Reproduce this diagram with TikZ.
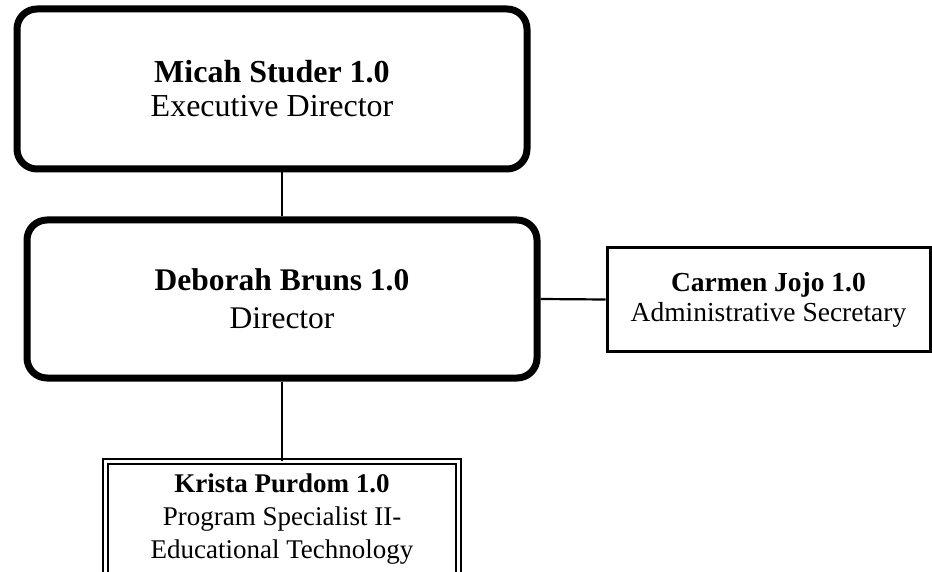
\documentclass[tikz,border=0pt]{standalone}
\usepackage{fontspec}
\setmainfont{Liberation Serif}
\usetikzlibrary{positioning}

\tikzset{
  leadbox/.style={draw, line width=7pt, rounded corners=20pt, minimum width=510pt,
    align=center, font=\fontsize{32}{34}\selectfont},
  staffbox/.style={draw, line width=3pt, align=center, font=\fontsize{27.5}{30}\selectfont},
  link/.style={line width=2.2pt}
}

\begin{document}
\begin{tikzpicture}[x=1pt,y=-1pt]
\useasboundingbox (0,0) rectangle (932,572);
\clip (0,0) rectangle (932,572);
% leadership
\node[leadbox, minimum height=160pt] (exec) at (272,89)
  {\textbf{Micah Studer 1.0}\\Executive Director};
\node[leadbox, minimum height=158pt, font=\fontsize{31.5}{38}\selectfont] (dir) at (282,299)
  {\textbf{Deborah Bruns 1.0}\\Director};
% staff
\node[staffbox, minimum width=323pt, minimum height=103pt] (sec) at (768.5,299.5)
  {\textbf{Carmen Jojo 1.0}\\Administrative Secretary};
\node[staffbox, line width=2pt, double, double distance=3pt, minimum width=353pt,
  minimum height=115pt, font=\fontsize{27}{33}\selectfont] (spec) at (282,519)
  {\textbf{Krista Purdom 1.0}\\Program Specialist II-\\Educational Technology};
% reporting lines
\draw[link] (dir.north) -- (dir.north |- exec.south);
\draw[link] (dir.east) -- (sec.west);
\draw[link] (dir.south) -- (spec.north);
\end{tikzpicture}
\end{document}
